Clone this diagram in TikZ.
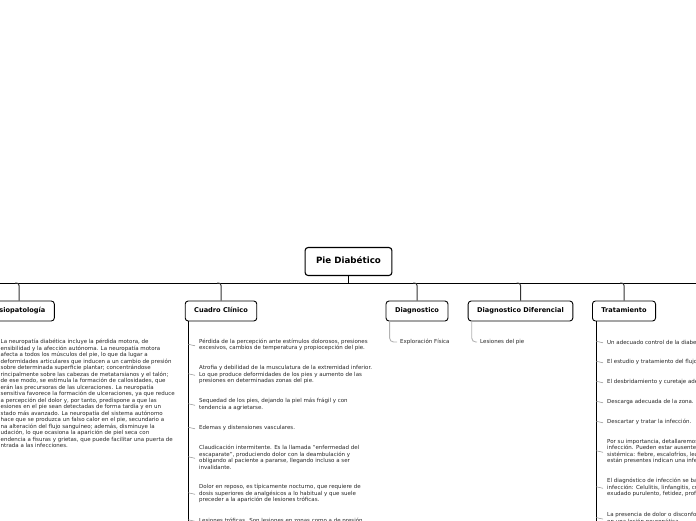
\documentclass[tikz,border=0pt]{standalone}
\usepackage{fontspec}
\setmainfont{DejaVu Sans}
\begin{document}
\begin{tikzpicture}[x=1pt,y=1pt,
  topic/.style={draw=black, line width=0.9pt, rounded corners=3pt, fill=white,
    font=\bfseries\fontsize{6.6}{8}\selectfont, minimum height=20pt, inner xsep=9pt, inner ysep=0pt,
    text height=5pt, text depth=1.4pt},
  rootbox/.style={topic, line width=1.1pt, font=\bfseries\fontsize{8.7}{10}\selectfont,
    minimum height=28pt, inner xsep=11pt, text height=6.5pt, text depth=1.8pt},
  leaf/.style={anchor=west, align=left, inner sep=0pt, font=\fontsize{5.5}{6.5}\selectfont, text=black!85},
  bus/.style={line width=0.9pt, black},
  stub/.style={line width=1pt, black!80, rounded corners=2.5pt},
  spine/.style={line width=0.9pt, black},
  tick/.style={line width=0.5pt, black!45},
  soft/.style={line width=0.9pt, black!30, rounded corners=4pt}]
\useasboundingbox (0,0) rectangle (696,-520);

% bus
\coordinate (busL) at (-30,-283);
\coordinate (busR) at (730,-283);
\draw[bus] (busL) -- (busR);

% main nodes
\node[rootbox] (root) at (348.5,-261.5) {Pie Diabético};
\node[topic] (fisio) at (19,-311) {Fisiopatología};
\node[topic] (cuadro) at (221,-311) {Cuadro Clínico};
\node[topic] (diag) at (417,-311) {Diagnostico};
\node[topic] (ddif) at (520.5,-311) {Diagnostico Diferencial};
\node[topic] (trat) at (624,-311) {Tratamiento};

\draw[line width=1.4pt] (root.south) -- (root.south |- busL);
\foreach \n in {fisio,cuadro,diag,ddif,trat}{
  \coordinate (\n top) at (\n.north |- busL);
  \draw[stub] (\n.north) -- (\n top) -- ([xshift=-4pt]\n top);
}

% Fisiopatologia
\node[leaf] (f1) at (0.5,-393.5) {La neuropatía diabética incluye la pérdida motora, de\\
ensibilidad y la afección autónoma. La neuropatía motora\\
afecta a todos los músculos del pie, lo que da lugar a\\
deformidades articulares que inducen a un cambio de presión\\
sobre determinada superficie plantar; concentrándose\\
rincipalmente sobre las cabezas de metatarsianos y el talón;\\
de ese modo, se estimula la formación de callosidades, que\\
erán las precursoras de las ulceraciones. La neuropatía\\
sensitiva favorece la formación de ulceraciones, ya que reduce\\
a percepción del dolor y, por tanto, predispone a que las\\
esiones en el pie sean detectadas de forma tardía y en un\\
stado más avanzado. La neuropatía del sistema autónomo\\
hace que se produzca un falso calor en el pie, secundario a\\
na alteración del flujo sanguíneo; además, disminuye la\\
udación, lo que ocasiona la aparición de piel seca con\\
endencia a fisuras y grietas, que puede facilitar una puerta de\\
ntrada a las infecciones.};

% Cuadro Clinico
\coordinate (spC) at (188,-530);
\draw[spine] (cuadro.south -| spC) -- (spC);
\node[leaf] (c1) at (199,-345) {Pérdida de la percepción ante estímulos dolorosos, presiones\\excesivos, cambios de temperatura y propiocepción del pie.};
\node[leaf] (c2) at (199,-374.5) {Atrofia y debilidad de la musculatura de la extremidad inferior.\\Lo que produce deformidades de los pies y aumento de las\\presiones en determinadas zonas del pie.};
\node[leaf] (c3) at (199,-404.5) {Sequedad de los pies, dejando la piel más frágil y con\\tendencia a agrietarse.};
\node[leaf] (c4) at (199,-428) {Edemas y distensiones vasculares.};
\node[leaf] (c5) at (199,-457.5) {Claudicación intermitente. Es la llamada ``enfermedad del\\escaparate'', produciendo dolor con la deambulación y\\obligando al paciente a pararse, llegando incluso a ser\\invalidante.};
\node[leaf] (c6) at (199,-493.5) {Dolor en reposo, es típicamente nocturno, que requiere de\\dosis superiores de analgésicos a lo habitual y que suele\\preceder a la aparición de lesiones tróficas.};
\node[leaf] (c7) at (199,-520.5) {Lesiones tróficas. Son lesiones en zonas como a de presión};
\foreach \n in {c1,c2,c3,c4,c5,c6,c7}
  \draw[tick] ([yshift=0.8pt]\n.west -| spC) to[out=0,in=180] ([xshift=-4pt,yshift=-0.8pt]\n.west);

% Diagnostico
\node[leaf] (d1) at (400,-342) {Exploración Física};
\draw[soft] ([xshift=4pt]diag.south west) |- ([xshift=-3pt]d1.west);
\node[leaf] (e1) at (480,-342) {Lesiones del pie};
\draw[soft] ([xshift=4pt]ddif.south west) |- ([xshift=-3pt]e1.west);

% Tratamiento
\coordinate (spT) at (596,-530);
\draw[spine] (trat.south -| spT) -- (spT);
\node[leaf] (t1) at (607,-342) {Un adecuado control de la diabetes.};
\node[leaf] (t2) at (607,-362) {El estudio y tratamiento del flujo sanguíneo.};
\node[leaf] (t3) at (607,-382) {El desbridamiento y curetaje adecuados.};
\node[leaf] (t4) at (607,-402) {Descarga adecuada de la zona.};
\node[leaf] (t5) at (607,-422) {Descartar y tratar la infección.};
\node[leaf] (t6) at (607,-451.5) {Por su importancia, detallaremos el diagnóstico de la\\infección. Pueden estar ausentes los signos de afectación\\sistémica: fiebre, escalofríos, leucocitosis; y si\\están presentes indican una infección grave.};
\node[leaf] (t7) at (607,-487.5) {El diagnóstico de infección se basa en los signos de\\infección: Celulitis, linfangitis, crepitación,\\exudado purulento, fetidez, profundidad.};
\node[leaf] (t8) at (607,-518.3) {La presencia de dolor o disconfort\\en una lesión neuropática};
\foreach \n in {t1,t2,t3,t4,t5,t6,t7,t8}
  \draw[tick] ([yshift=0.8pt]\n.west -| spT) to[out=0,in=180] ([xshift=-4pt,yshift=-0.8pt]\n.west);
\end{tikzpicture}
\end{document}
